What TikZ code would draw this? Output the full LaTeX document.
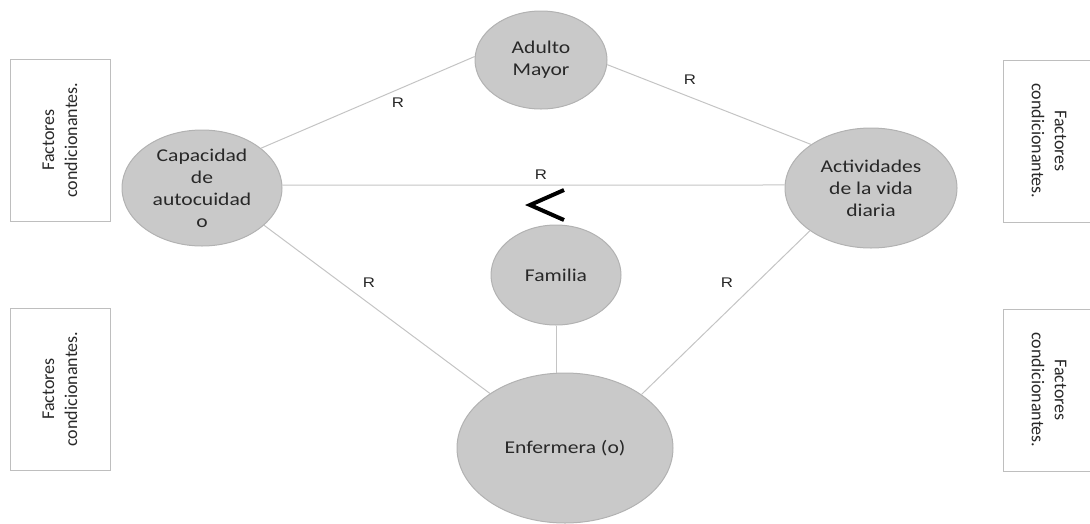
\documentclass[tikz,border=0pt]{standalone}
\usepackage{fontspec}
\setmainfont{Carlito}
\newfontfamily\elfont[FakeStretch=1.2]{Carlito}
\newfontfamily\rfont[FakeStretch=1.2]{Liberation Sans}
\usetikzlibrary{shapes.geometric}
\definecolor{elfill}{RGB}{201,201,201}
\definecolor{eldraw}{RGB}{178,178,178}
\definecolor{linegray}{RGB}{196,196,196}
\definecolor{boxgray}{RGB}{190,190,190}
\definecolor{txtgray}{RGB}{40,40,40}

\begin{document}
\begin{tikzpicture}[x=1pt,y=-1pt,
		elip/.style={ellipse,fill=elfill,draw=eldraw,line width=1pt,inner sep=0pt,align=center,text=txtgray,font=\elfont\fontsize{18}{22}\selectfont},
		conn/.style={draw=linegray,line width=1pt},
		rlab/.style={font=\rfont\fontsize{14}{16}\selectfont,text=txtgray},
		fbox/.style={draw=boxgray,line width=1pt,align=center,text=txtgray,font=\fontsize{18}{23}\selectfont}]
		\clip (0,0) rectangle (1090,523);
		\node[elip,minimum width=132,minimum height=98] (adulto) at (541,60) {Adulto\\Mayor};
		\node[elip,minimum width=160,minimum height=116] (capac) at (202,188) {Capacidad\\de\\autocuidad\\o};
		\node[elip,minimum width=172,minimum height=120] (activ) at (871,188) {Actividades\\de la vida\\diaria};
		\node[elip,minimum width=130,minimum height=100] (famil) at (556,275) {Familia};
		\node[elip,minimum width=216,minimum height=150] (enf) at (565,448) {Enfermera (o)};
		\foreach \n/\x/\y/\a in {fl1/60/140/90,fl2/60/389/90,fr1/1049/141/-90,fr2/1049/390/-90}
			\node[fbox,rotate=\a,minimum width=162,minimum height=\ifnum\x<100 100\else 92\fi] (\n) at (\x,\y) {Factores\\condicionantes.};
		\draw[conn] (capac.34) -- (adulto.177);
		\draw[conn] (adulto.356) -- (activ.144);
		\draw[conn] (capac.2) -- (activ.178);
		\draw[conn] (capac.329) -- (enf.144);
		\draw[conn] (activ.215) -- (enf.35);
		\draw[conn] (famil.south) -- (famil.south |- enf.north);
		\foreach \n/\x/\y in {r1/398/103,r2/690/80,r3/541/175,r4/369/283,r5/727/283}
			\node[rlab] (\n) at (\x,\y) {R};
		\draw[line width=4pt,line join=miter] (564,190) -- (530,205) -- (564,220);
	\end{tikzpicture}
\end{document}
